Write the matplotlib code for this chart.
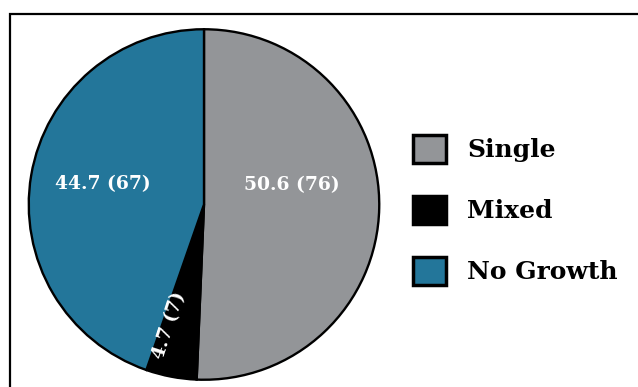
import matplotlib

matplotlib.use("Agg")
import matplotlib.pyplot as plt
from matplotlib.patches import Patch, Rectangle

categories = ["Single", "Mixed", "No Growth"]
percents = [50.6, 4.7, 44.7]
counts = [76, 7, 67]
colors = ["#939598", "#000000", "#23769A"]

# label centres (pie data coords) and rotation
label_pos = [(0.50, 0.11), (-0.20, -0.69), (-0.576, 0.116)]
label_rot = [0, 72, 0]

plt.rcParams["font.family"] = ["DejaVu Serif"]

W, H = 638, 387
fig = plt.figure(figsize=(W / 100, H / 100), dpi=100)

# outer frame (runs off the right and bottom edges)
fig.patches.append(
    Rectangle((10 / W, -0.1), 1.2, 1.1 - 14 / H, transform=fig.transFigure,
              fill=False, edgecolor="black", lw=1.6)
)

cx, cy, r = 204, 204.5, 177
ax = fig.add_axes([(cx - r) / W, (H - cy - r) / H, 2 * r / W, 2 * r / H])
wedges, _ = ax.pie(
    counts,
    colors=colors,
    startangle=90,
    counterclock=False,
    wedgeprops=dict(edgecolor="black", linewidth=1.7),
)
ax.set_xlim(-1.01, 1.01)
ax.set_ylim(-1.01, 1.01)

for (x, y), rot, p, n in zip(label_pos, label_rot, percents, counts):
    ax.text(x, y, f"{p} ({n})", ha="center", va="center", rotation=rot,
            color="white", fontsize=13.5, fontweight="bold")

handles = [Patch(facecolor=c, edgecolor="black", lw=2.5) for c in colors]
fs = 18
fs_px = fs * 100 / 72
box = 33
fig.legend(
    handles, categories,
    loc="upper left",
    bbox_to_anchor=(413 / W, 1 - 135 / H),
    bbox_transform=fig.transFigure,
    frameon=False,
    borderpad=0,
    borderaxespad=0,
    handlelength=box / fs_px,
    handleheight=box / fs_px,
    handletextpad=(468 - 447) / fs_px,
    labelspacing=(66.5 - box) / fs_px,
    prop=dict(family="DejaVu Serif", weight="bold", size=fs),
)

fig.savefig("out.png", dpi=100)
